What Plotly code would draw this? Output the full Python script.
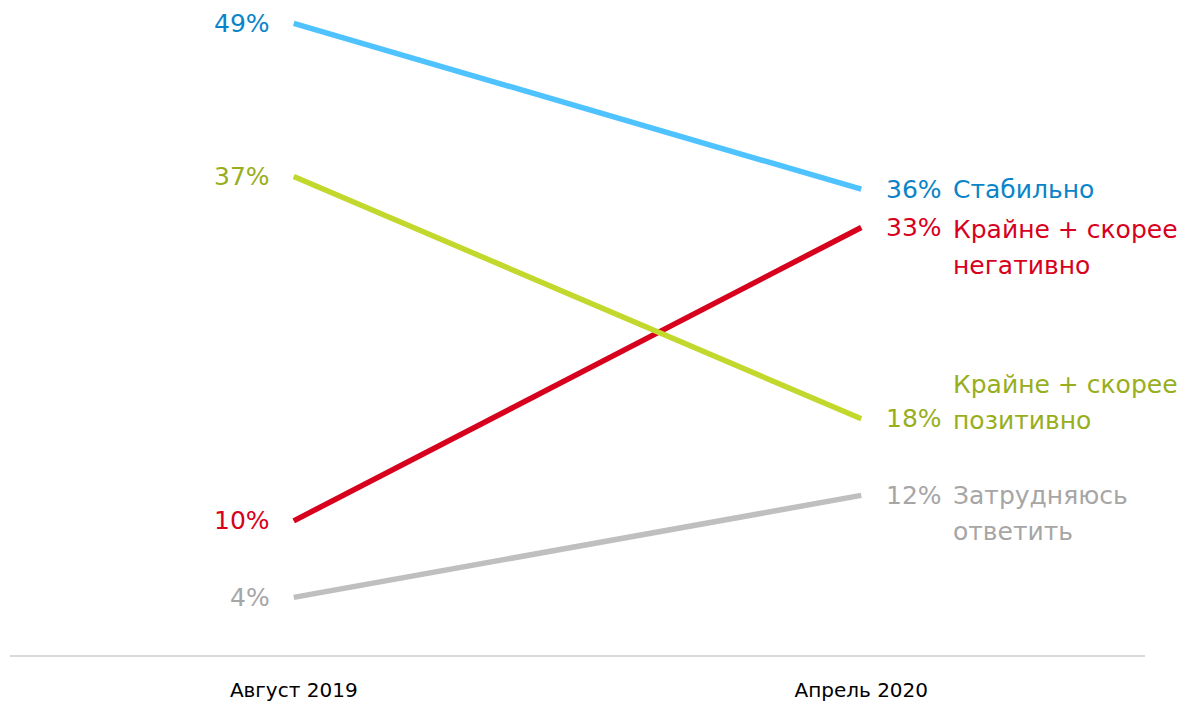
import plotly.graph_objects as go

periods = ["Август 2019", "Апрель 2020"]
series_names = ["Стабильно", "Крайне + скорее негативно", "Крайне + скорее позитивно", "Затрудняюсь ответить"]
label_lines = [["Стабильно"], ["Крайне + скорее", "негативно"], ["Крайне + скорее", "позитивно"], ["Затрудняюсь", "ответить"]]
aug_2019 = [49, 10, 37, 4]
apr_2020 = [36, 33, 18, 12]

line_colors = ["#4FC3FF", "#D7001D", "#C3D82C", "#BFBFBF"]
text_colors = ["#0A84C8", "#D7001D", "#98AE1D", "#A6A6A6"]
first_line_offset = [0, 2, -34, 0]
line_spacing = 36
FONT = "DejaVu Sans"

fig = go.Figure()
xpos = [0, 1]
for i, name in enumerate(series_names):
    fig.add_trace(go.Scatter(
        x=xpos, y=[aug_2019[i], apr_2020[i]], mode="lines",
        line=dict(color=line_colors[i], width=5.5), name=name,
        hoverinfo="skip", showlegend=False))

ann = []
for i in range(len(series_names)):
    ann.append(dict(x=0, y=aug_2019[i], xref="x", yref="y", text=f"{aug_2019[i]}%",
                    showarrow=False, xanchor="right", yanchor="middle", xshift=-22,
                    font=dict(family=FONT, size=25, color=text_colors[i])))
    ann.append(dict(x=1, y=apr_2020[i], xref="x", yref="y", text=f"{apr_2020[i]}%",
                    showarrow=False, xanchor="left", yanchor="middle", xshift=23,
                    font=dict(family=FONT, size=25, color=text_colors[i])))
    for j, ln in enumerate(label_lines[i]):
        off = first_line_offset[i] + j * line_spacing
        ann.append(dict(x=1, y=apr_2020[i], xref="x", yref="y", text=ln,
                        showarrow=False, xanchor="left", yanchor="middle", xshift=90,
                        yshift=-off,
                        font=dict(family=FONT, size=25, color=text_colors[i])))

fig.update_layout(
    width=1187, height=702,
    margin=dict(l=10, r=42, t=0, b=45),
    paper_bgcolor="white", plot_bgcolor="white",
    annotations=ann,
    hovermode=False,
    xaxis=dict(range=[-0.5, 1.5], tickvals=xpos, ticktext=periods, showgrid=False,
               zeroline=False, showline=True, linecolor="#D9D9D9", linewidth=2,
               ticks="", ticklabelstandoff=16,
               tickfont=dict(family=FONT, size=20, color="#000000")),
    yaxis=dict(range=[-0.515, 50.83], visible=False, showgrid=False, zeroline=False),
)

fig.write_html("out.html", config={"displayModeBar": False},
               post_script="document.body.style.margin='0';document.body.style.overflow='hidden';")
